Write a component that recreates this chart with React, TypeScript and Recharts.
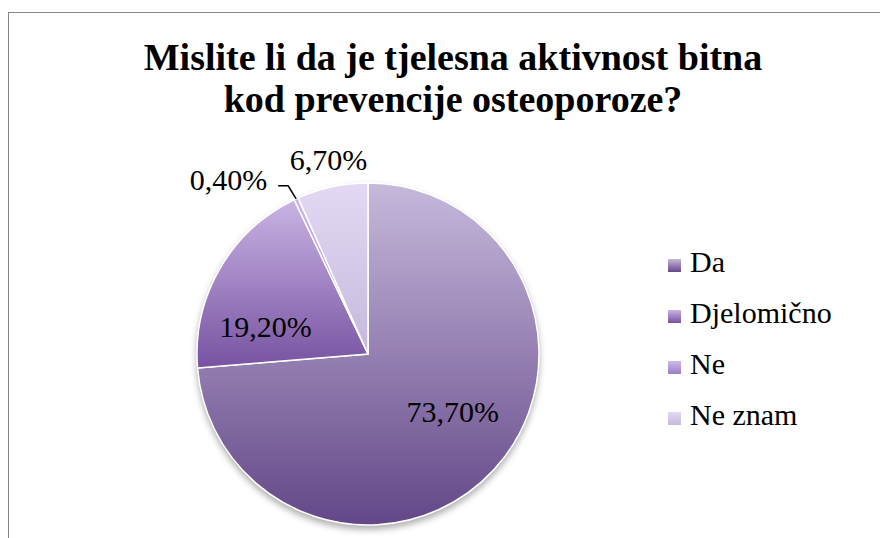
import { PieChart, Pie, Cell, Legend } from 'recharts'

const CATEGORIES = ['Da', 'Djelomično', 'Ne', 'Ne znam']
const VALUES = [73.7, 19.2, 0.4, 6.7]
const LABELS = ['73,70%', '19,20%', '0,40%', '6,70%']

// top -> bottom shade of each slice
const GRADIENTS = [
  ['#c6b9db', '#634788'],
  ['#c9b4e4', '#7752a1'],
  ['#cdb8e8', '#9d7fc6'],
  ['#e3d9f4', '#c5b9dc'],
]

const FONT = "'Liberation Serif', Tinos, 'Times New Roman', Times, 'DejaVu Serif', serif"
const RAD = Math.PI / 180

const data = CATEGORIES.map((name, i) => ({ name, value: VALUES[i] }))

// angle shift (deg) and radius factor for each label, Ne gets a leader line
const SPOTS: Array<[number, number] | null> = [[8.4, 0.6], [15, 0.62], null, [-0.6, 1.16]]

function renderLabel(props: any) {
  const { cx, cy, midAngle, outerRadius, index } = props
  const at = (angle: number, r: number) => [cx + r * Math.cos(-angle * RAD), cy + r * Math.sin(-angle * RAD)]
  const textProps = { fontSize: 30, fontFamily: FONT, fill: '#000' }
  const spot = SPOTS[index]
  if (!spot) {
    const [ex, ey] = at(midAngle, outerRadius)
    const kx = ex - 8
    const ky = ey - 13
    const hx = kx - 10
    return (
      <g>
        <path d={`M${ex},${ey}L${kx},${ky}L${hx},${ky}`} stroke="#000" strokeWidth={1.5} fill="none" />
        <text x={hx - 11} y={ky - 6} textAnchor="end" dominantBaseline="central" style={{ fontFamily: FONT }} {...textProps}>
          {LABELS[index]}
        </text>
      </g>
    )
  }
  const [x, y] = at(midAngle + spot[0], outerRadius * spot[1])
  return (
    <text x={x} y={y} textAnchor="middle" dominantBaseline="central" style={{ fontFamily: FONT }} {...textProps}>
      {LABELS[index]}
    </text>
  )
}

function LegendList() {
  return (
    <div style={{ fontFamily: FONT }}>
      {CATEGORIES.map((name, i) => (
        <div key={name} style={{ display: 'flex', alignItems: 'center', height: 51 }}>
          <svg width={13} height={13} style={{ marginTop: 8, marginRight: 9 }}>
            <rect width={13} height={13} fill={`url(#g${i})`} />
          </svg>
          <span style={{ fontSize: 30, lineHeight: '51px', color: '#000', fontFamily: FONT }}>{name}</span>
        </div>
      ))}
    </div>
  )
}

export default function App() {
  return (
    <div style={{
      position: 'fixed', left: 8, top: 12, width: 872, height: 526,
      borderTop: '1px solid #878787', borderLeft: '1px solid #878787', background: '#fff',
      fontFamily: FONT,
    }}>
      <style>{`.recharts-pie { filter: drop-shadow(0 4px 3px rgba(0,0,0,0.3)); }`}</style>
      <svg width={0} height={0} style={{ position: 'absolute' }}>
        <defs>
          {GRADIENTS.map(([top, bottom], i) => (
            <linearGradient key={i} id={`g${i}`} x1="0" y1="0" x2="0" y2="1">
              <stop offset="0%" stopColor={top} />
              <stop offset="100%" stopColor={bottom} />
            </linearGradient>
          ))}
        </defs>
      </svg>
      <div style={{
        position: 'absolute', left: 8, top: 23, width: 872, textAlign: 'center',
        fontFamily: FONT, fontWeight: 700, fontSize: 38, lineHeight: '42px', color: '#000',
      }}>
        Mislite li da je tjelesna aktivnost bitna<br />kod prevencije osteoporoze?
      </div>
      <PieChart
        width={870}
        height={525}
        margin={{ top: 0, right: 0, bottom: 0, left: 0 }}
        style={{ position: 'absolute', left: 0, top: 0 }}
      >
        <Pie
          data={data}
          dataKey="value"
          nameKey="name"
          cx={359}
          cy={341}
          outerRadius={171}
          startAngle={90}
          endAngle={-270}
          stroke="#fff"
          strokeWidth={1.5}
          label={renderLabel}
          labelLine={false}
          isAnimationActive={false}
        >
          {data.map((d, i) => (
            <Cell key={d.name} fill={`url(#g${i})`} />
          ))}
        </Pie>
        <Legend
          content={() => <LegendList />}
          layout="vertical"
          wrapperStyle={{ position: 'absolute', left: 659, top: 223, width: 200 }}
        />
      </PieChart>
    </div>
  )
}
